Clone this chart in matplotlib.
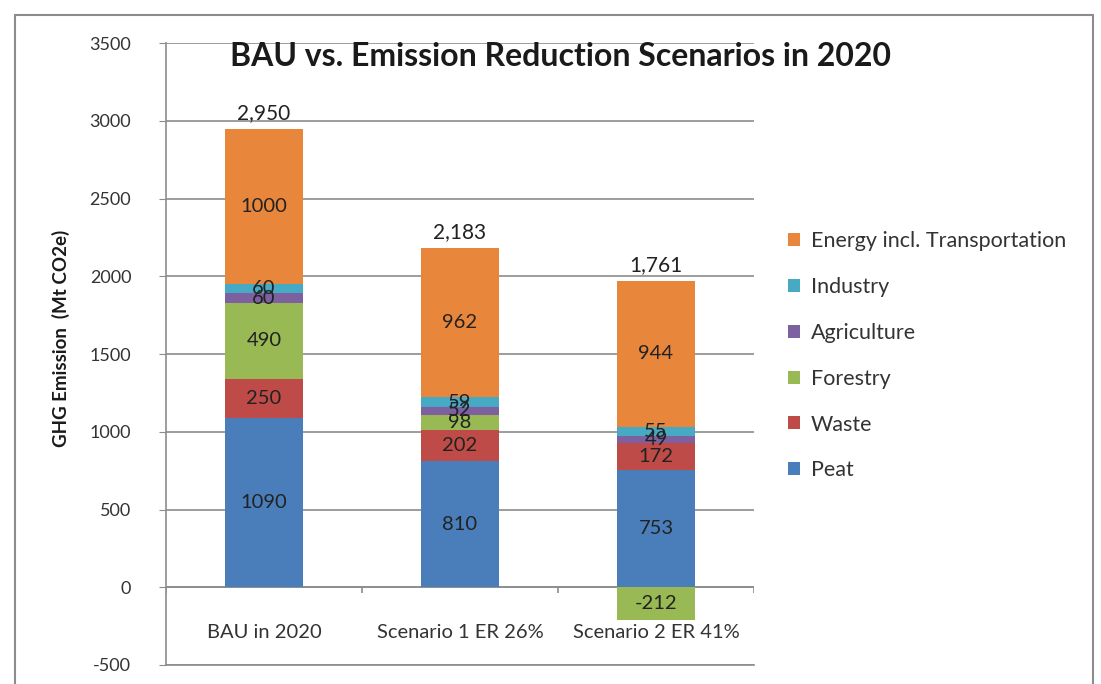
import numpy as np
import matplotlib
matplotlib.use("Agg")
from matplotlib import pyplot as plt
from matplotlib.patches import Rectangle

plt.rcParams['font.family'] = ['Lato', 'DejaVu Sans']
plt.rcParams['axes.unicode_minus'] = False

# data
scenarios = ["BAU in 2020", "Scenario 1 ER 26%", "Scenario 2 ER 41%"]
sectors = ["Peat", "Waste", "Forestry", "Agriculture", "Industry",
           "Energy incl. Transportation"]
peat = [1090, 810, 753]
waste = [250, 202, 172]
forestry = [490, 98, -212]
agriculture = [60, 52, 49]
industry = [60, 59, 55]
energy = [1000, 962, 944]
totals = [2950, 2183, 1761]

series = [peat, waste, forestry, agriculture, industry, energy]
colors = ['#4a7ebb', '#be4b48', '#98b954', '#7d60a0', '#46aac5', '#e8863c']

fig = plt.figure(figsize=(11.01, 6.84), dpi=100)
ax = fig.add_axes([0.1508, 0.0278, 0.534, 0.909])

# outer chart border
fig.patches.append(Rectangle((15 / 1101, -0.1), 1078 / 1101, 0.1 + 669 / 684,
                             transform=fig.transFigure, fill=False,
                             edgecolor='#8c8c8c', linewidth=1.5))

x = np.arange(len(scenarios))
width = 0.4
pos_base = np.zeros(len(scenarios))
neg_base = np.zeros(len(scenarios))
handles = []
for vals, name, col in zip(series, sectors, colors):
    vals = np.array(vals, dtype=float)
    bottom = np.where(vals >= 0, pos_base, neg_base)
    bars = ax.bar(x, vals, width, bottom=bottom, color=col, label=name, zorder=3)
    handles.append(bars)
    for i, v in enumerate(vals):
        ax.text(x[i], bottom[i] + v / 2, "%d" % v, ha='center', va='center',
                fontsize=14.5, color='#222222', zorder=4)
    pos_base = np.where(vals >= 0, pos_base + vals, pos_base)
    neg_base = np.where(vals < 0, neg_base + vals, neg_base)

# totals above bars
for i, t in enumerate(totals):
    ax.annotate("{:,}".format(t), (x[i], pos_base[i]), xytext=(0, 4),
                textcoords='offset points', ha='center', va='bottom',
                fontsize=15, color='#222222')

ax.set_ylim(-500, 3500)
ax.set_xlim(-0.5, 2.5)
ax.set_yticks(np.arange(-500, 3501, 500))
ax.yaxis.grid(True, color='#8c8c8c', linewidth=1.2, zorder=0)
ax.set_xticks([])
ax.tick_params(axis='y', length=5, color='#8c8c8c', labelsize=13,
               labelcolor='#333333', pad=20)

for s in ['top', 'right']:
    ax.spines[s].set_visible(False)
for s in ['left', 'bottom']:
    ax.spines[s].set_color('#8c8c8c')
    ax.spines[s].set_linewidth(1.2)

# category axis at zero
ax.axhline(0, color='#8c8c8c', linewidth=1.2, zorder=2)
ax.vlines(np.arange(len(scenarios) + 1) - 0.5, -35, 0, color='#8c8c8c',
          linewidth=1.2, zorder=2)
for i, name in enumerate(scenarios):
    ax.text(x[i], -290, name, ha='center', va='center', fontsize=14.5,
            color='#333333')

fig.text(0.509, 0.917, "BAU vs. Emission Reduction Scenarios in 2020",
         ha='center', va='center', fontsize=23, fontweight='bold',
         color='#1a1a1a')
fig.text(0.055, 0.505, "GHG Emission  (Mt CO2e)", rotation=90, ha='center',
         va='center', fontsize=13.5, fontweight='bold', color='#1a1a1a')

fig.legend(handles[::-1], sectors[::-1], loc='upper left',
           bbox_to_anchor=(0.716, 0.662), frameon=False, fontsize=15.5,
           labelspacing=1.2, handlelength=0.55, handleheight=0.55,
           handletextpad=0.5, borderpad=0, borderaxespad=0,
           labelcolor='#333333')

fig.savefig("out.png", dpi=100)
